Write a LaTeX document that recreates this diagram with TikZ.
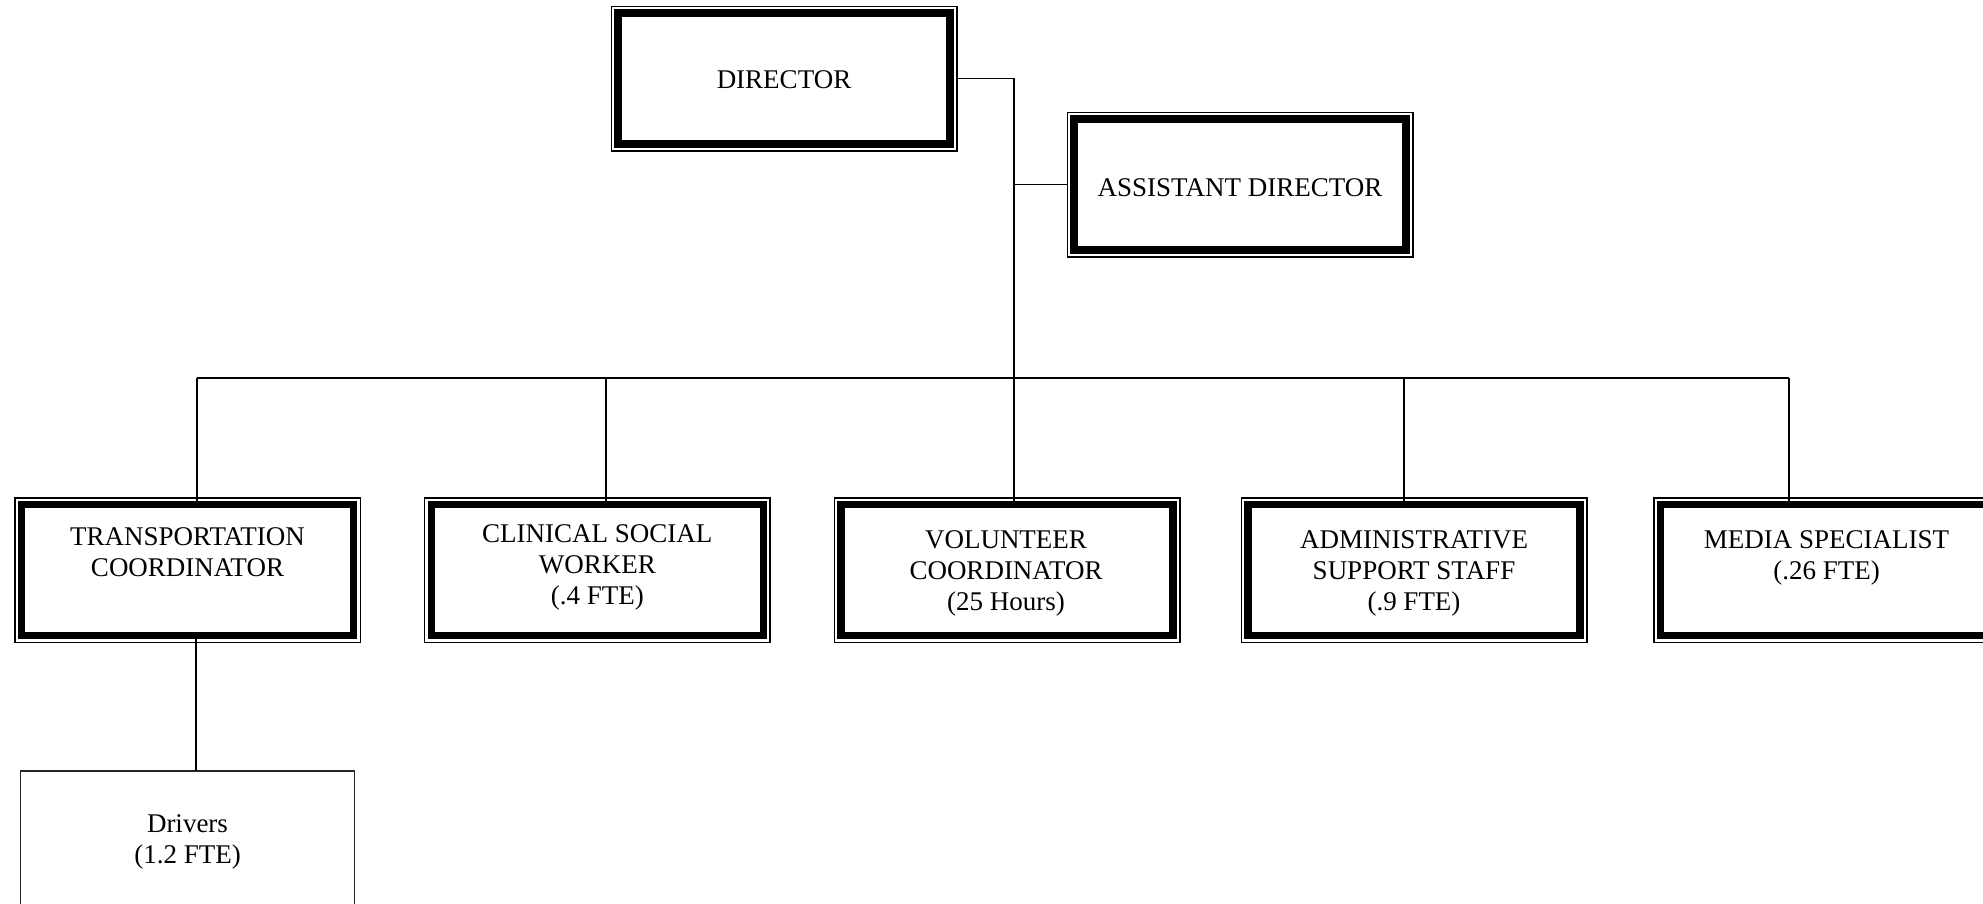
\documentclass[tikz,border=0pt]{standalone}
\usepackage{fontspec}
\setmainfont{Liberation Serif}
\begin{document}
\begin{tikzpicture}[x=1pt,y=-1pt,
  conn/.style={draw=black, line width=1.6pt},
  into/.style={shorten >=-7pt},
  frame/.style={rectangle, draw=black, line width=1.5pt, inner sep=0pt, outer sep=0pt,
    minimum width=345.5pt, minimum height=144.5pt,
    path picture={\draw[line width=7.4pt]
      ([shift={(6.8pt,6.8pt)}]path picture bounding box.south west) rectangle
      ([shift={(-6.8pt,-6.8pt)}]path picture bounding box.north east);}},
  plainbox/.style={rectangle, draw=black!85, line width=1.4pt, inner sep=0pt, outer sep=0pt,
    minimum width=334pt, minimum height=145pt},
  txt/.style={anchor=north, inner sep=0pt, align=center,
    font=\fontsize{27pt}{31pt}\selectfont}
]
\useasboundingbox (0,0) rectangle (1983,903);
\clip (0,0) rectangle (1983,903);
\fill[white] (0,0) rectangle (1983,903);

% boxes
\node[frame] (dir) at (784,78.5) {};
\node[frame] (ad)  at (1240,184.5) {};
\node[frame] (tc)  at (187.5,570) {};
\node[frame] (cs)  at (597.3,570) {};
\node[frame] (vc)  at (1007,570) {};
\node[frame] (as)  at (1414,570) {};
\node[frame] (ms)  at (1826.5,570) {};
\node[plainbox] (drv) at (187.5,843.5) {};

% titles (anchor = top of first line, first baseline minus strut height)
\node[txt] (dirT) at (784,66.4)    {\strut DIRECTOR};
\node[txt] (adT)  at (1240,174.9)  {\strut ASSISTANT DIRECTOR};
\node[txt] (tcT)  at (187.5,523.4) {\strut TRANSPORTATION\\COORDINATOR};
\node[txt] (csT)  at (597.3,520.9) {\strut CLINICAL SOCIAL\\WORKER\\(.4 FTE)};
\node[txt] (vcT)  at (1006,526.4)  {\strut VOLUNTEER\\COORDINATOR\\(25 Hours)};
\node[txt] (asT)  at (1414,526.4)  {\strut ADMINISTRATIVE\\SUPPORT STAFF\\(.9 FTE)};
\node[txt] (msT)  at (1826.5,526.9) {\strut MEDIA SPECIALIST\\(.26 FTE)};
\node[txt] (drvT) at (187.5,811.0) {\strut Drivers\\(1.2 FTE)};

% reporting lines
\coordinate (tj)   at (1014,78.5);
\coordinate (busL) at (197,378);
\coordinate (d2)   at (606,378);
\coordinate (d4)   at (1404,378);
\coordinate (busR) at (1789,378);
\coordinate (tdx)  at (196,0);

\draw[conn,into] (dir.east) -- (tj) -- (tj |- vc.north);
\draw[conn] (ad.west) -- (ad.west -| tj);
\draw[conn] (busL) -- (busR);
\draw[conn,into] (busL) -- (busL |- tc.north);
\draw[conn,into] (d2) -- (d2 |- cs.north);
\draw[conn,into] (d4) -- (d4 |- as.north);
\draw[conn,into] (busR) -- (busR |- ms.north);
\draw[conn] ([yshift=7pt]tc.south -| tdx) -- (drv.north -| tdx);
\end{tikzpicture}
\end{document}
